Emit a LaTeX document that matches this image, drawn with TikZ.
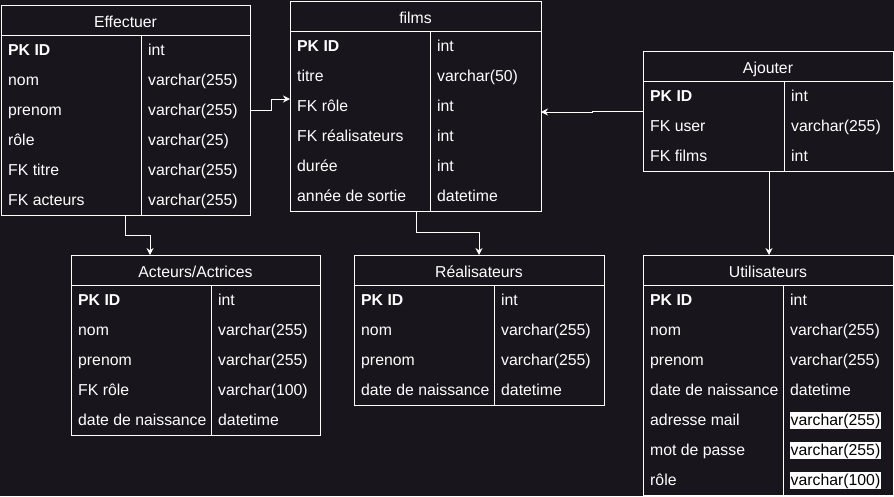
\documentclass[tikz,border=0pt]{standalone}
\usepackage{fontspec}
\setmainfont{Liberation Sans}
\usetikzlibrary{arrows.meta,calc}
\definecolor{bg}{RGB}{24,21,28}
\tikzset{
  tbl/.style={draw=white, line width=1pt, anchor=north west, inner sep=0pt, outer sep=0pt},
  sep/.style={draw=white, line width=1pt},
  ttl/.style={text=white, anchor=base, inner sep=0pt, font=\fontsize{15.8}{18}\selectfont},
  fld/.style={text=white, anchor=base west, inner sep=0pt, font=\fontsize{15.8}{18}\selectfont},
  key/.style={fld, font=\fontsize{15.8}{18}\selectfont\bfseries},
  hl/.style={fld, fill=white, text=black, inner xsep=0.5pt, inner ysep=0pt, text height=13.5pt, text depth=3.5pt},
  conn/.style={draw=white, line width=1pt, -{Stealth[length=7pt,width=7pt]}},
}
% name, left, top, width, divider offset, number of rows, title
\newcommand\dbtab[7]{%
  \node[tbl, minimum width=#4, minimum height={30*(#6+1)}] (#1) at (#2,#3) {};
  \draw[sep] ($(#1.north west)+(0,30)$) -- ++(#4,0);
  \draw[sep] ($(#1.north west)+(#5,30)$) -- ++(0,{30*#6});
  \node[ttl] (#1-title) at ($(#1.north west)+({#4/2},22)$) {#7};
  \node[key] (#1-k1) at ($(#1.north west)+(7,50)$) {PK ID};
  \node[fld] (#1-v1) at ($(#1.north west)+({#5+7},50)$) {int};
}
% table, row index, divider offset, key, value
\newcommand\dbrow[5]{%
  \node[fld] (#1-k#2) at ($(#1.north west)+(7,{30*#2+20})$) {#4};
  \node[fld] (#1-v#2) at ($(#1.north west)+({#3+7},{30*#2+20})$) {#5};
}
\newcommand\dbrowhl[5]{%
  \node[fld] (#1-k#2) at ($(#1.north west)+(7,{30*#2+20})$) {#4};
  \node[hl] (#1-v#2) at ($(#1.north west)+({#3+7},{30*#2+20})$) {#5};
}
\begin{document}
\begin{tikzpicture}[x=1pt,y=-1pt]
\useasboundingbox[fill=bg] (0,0) rectangle (894,496);

% Effectuer
\dbtab{eff}{1}{5}{249}{140}{6}{Effectuer}
\dbrow{eff}{2}{140}{nom}{varchar(255)}
\dbrow{eff}{3}{140}{prenom}{varchar(255)}
\dbrow{eff}{4}{140}{rôle}{varchar(25)}
\dbrow{eff}{5}{140}{FK titre}{varchar(255)}
\dbrow{eff}{6}{140}{FK acteurs}{varchar(255)}

% films
\dbtab{films}{290}{1}{251}{140}{6}{films}
\dbrow{films}{2}{140}{titre}{varchar(50)}
\dbrow{films}{3}{140}{FK rôle}{int}
\dbrow{films}{4}{140}{FK réalisateurs}{int}
\dbrow{films}{5}{140}{durée}{int}
\dbrow{films}{6}{140}{année de sortie}{datetime}

% Ajouter
\dbtab{aj}{643}{51}{250}{141}{3}{Ajouter}
\dbrow{aj}{2}{141}{FK user}{varchar(255)}
\dbrow{aj}{3}{141}{FK films}{int}

% Acteurs/Actrices
\dbtab{act}{71}{255}{249}{140}{5}{Acteurs/Actrices}
\dbrow{act}{2}{140}{nom}{varchar(255)}
\dbrow{act}{3}{140}{prenom}{varchar(255)}
\dbrow{act}{4}{140}{FK rôle}{varchar(100)}
\dbrow{act}{5}{140}{date de naissance}{datetime}

% Réalisateurs
\dbtab{real}{354}{255}{250}{140}{4}{Réalisateurs}
\dbrow{real}{2}{140}{nom}{varchar(255)}
\dbrow{real}{3}{140}{prenom}{varchar(255)}
\dbrow{real}{4}{140}{date de naissance}{datetime}

% Utilisateurs
\dbtab{usr}{643}{255}{250}{140}{7}{Utilisateurs}
\dbrow{usr}{2}{140}{nom}{varchar(255)}
\dbrow{usr}{3}{140}{prenom}{varchar(255)}
\dbrow{usr}{4}{140}{date de naissance}{datetime}
\dbrowhl{usr}{5}{140}{adresse mail}{varchar(255)}
\dbrowhl{usr}{6}{140}{mot de passe}{varchar(255)}
\dbrowhl{usr}{7}{140}{rôle}{varchar(100)}

% connectors
\coordinate (j1) at (271,110);
\coordinate (j2) at (271,99);
\draw[conn] (eff.east) -- (j1) -- (j2) -- (films.west |- j2);

\coordinate (j3) at (125,235);
\coordinate (j4) at (150,235);
\draw[conn] (j3 |- eff.south) -- (j3) -- (j4) -- (j4 |- act.north);

\coordinate (j5) at (416,232);
\coordinate (j6) at (479,232);
\draw[conn] (j5 |- films.south) -- (j5) -- (j6) -- (j6 |- real.north);

\coordinate (j7) at (592,111);
\coordinate (j8) at (592,112);
\draw[conn] (j7 -| aj.west) -- (j7) -- (j8) -- (j8 -| films.east);

\coordinate (j9) at (769,0);
\draw[conn] (j9 |- aj.south) -- (j9 |- usr.north);
\end{tikzpicture}
\end{document}
